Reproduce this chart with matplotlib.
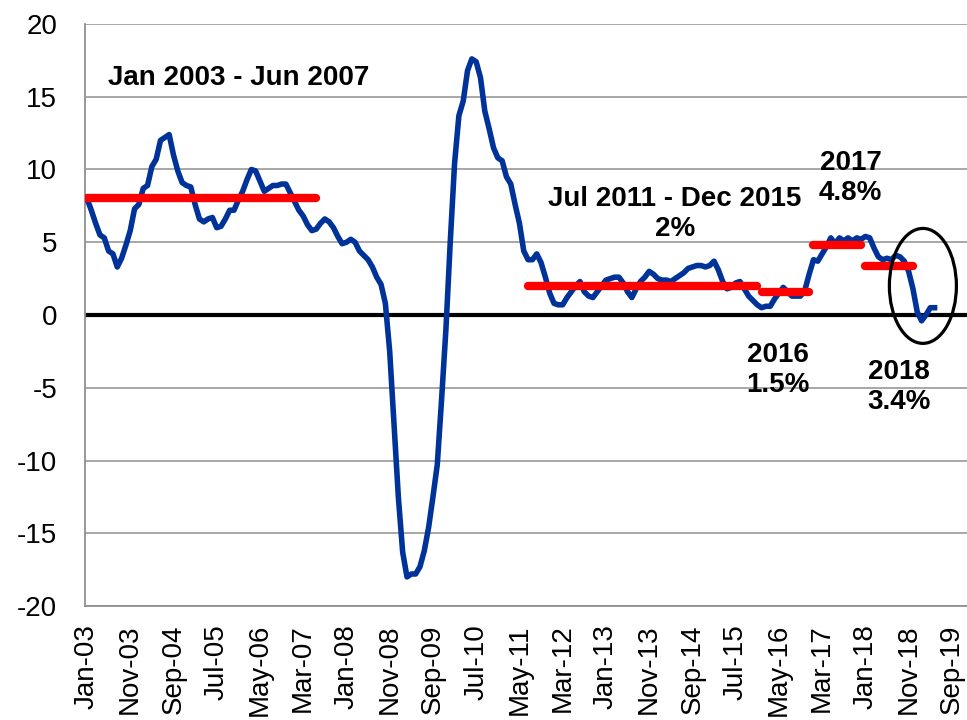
import numpy as np
import pandas as pd
import matplotlib
matplotlib.use('Agg')
import matplotlib.pyplot as plt
from matplotlib.patches import Ellipse

# monthly growth, % y/y, starting Jan 2003
start = '2003-01'
growth = [
    8.0, 7.2, 6.3, 5.5, 5.3, 4.4, 4.2, 3.3, 3.9, 4.8,
    5.8, 7.3, 7.6, 8.7, 8.9, 10.2, 10.7, 12.0, 12.2, 12.4,
    11.0, 9.9, 9.1, 8.9, 8.8, 7.6, 6.6, 6.4, 6.6, 6.7,
    6.0, 6.1, 6.6, 7.2, 7.2, 7.9, 8.5, 9.3, 10.0, 9.9,
    9.2, 8.5, 8.7, 8.9, 8.9, 9.0, 9.0, 8.4, 7.8, 7.2,
    6.8, 6.2, 5.8, 5.9, 6.3, 6.6, 6.4, 6.0, 5.4, 4.9,
    5.0, 5.2, 5.0, 4.4, 4.1, 3.8, 3.3, 2.6, 2.1, 0.8,
    -2.5, -7.5, -12.5, -16.3, -18.0, -17.8, -17.8, -17.3, -16.2, -14.6,
    -12.5, -10.3, -5.8, -1.0, 5.0, 10.4, 13.7, 14.7, 16.8, 17.6,
    17.4, 16.3, 14.0, 12.8, 11.5, 10.8, 10.6, 9.5, 9.0, 7.6,
    6.3, 4.4, 3.8, 3.8, 4.2, 3.6, 2.6, 1.5, 0.8, 0.7,
    0.7, 1.2, 1.6, 2.0, 2.3, 1.6, 1.3, 1.2, 1.6, 2.0,
    2.4, 2.5, 2.6, 2.6, 2.2, 1.6, 1.2, 1.8, 2.3, 2.6,
    3.0, 2.8, 2.5, 2.4, 2.4, 2.3, 2.5, 2.7, 2.9, 3.2,
    3.3, 3.4, 3.4, 3.3, 3.4, 3.7, 3.1, 2.3, 1.8, 1.9,
    2.2, 2.3, 1.8, 1.3, 1.0, 0.7, 0.5, 0.6, 0.6, 1.1,
    1.5, 1.9, 1.6, 1.3, 1.3, 1.3, 1.7, 2.8, 3.8, 3.7,
    4.2, 4.7, 5.3, 4.9, 5.3, 5.1, 5.3, 5.1, 5.3, 5.2,
    5.4, 5.3, 4.6, 4.0, 3.8, 3.9, 3.8, 4.1, 4.0, 3.7,
    3.0, 1.8, 0.2, -0.4, 0.0, 0.5, 0.5,
]

# period averages: (first month, last month, average)
avg_starts = ['2003-01', '2011-07', '2016-01', '2017-01', '2018-01']
avg_ends = ['2007-06', '2015-12', '2016-12', '2017-12', '2018-12']
avg_values = [8.05, 2.0, 1.55, 4.8, 3.35]

labels = ['Jan 2003 - Jun 2007', 'Jul 2011 - Dec 2015\n2%', '2016\n1.5%',
          '2017\n4.8%', '2018\n3.4%']

yticks = [20, 15, 10, 5, 0, -5, -10, -15, -20]

plt.rcParams['font.family'] = ['Liberation Sans', 'DejaVu Sans']

x = np.arange(len(growth))
base = pd.Timestamp(start)


def month_idx(s):
    t = pd.Timestamp(s)
    return (t.year - base.year) * 12 + (t.month - base.month)


fig = plt.figure(figsize=(9.67, 7.2), dpi=100)
ax = fig.add_axes([0.0879, 0.1583, 0.9121, 0.8084])

for v in yticks:
    if v != 0:
        ax.axhline(v, color='#a0a0a0', lw=1.3, zorder=1)
ax.axhline(0, color='black', lw=3, zorder=2)

ax.plot(x, growth, color='#003399', lw=4, solid_joinstyle='round', zorder=3)

for s, e, v in zip(avg_starts, avg_ends, avg_values):
    ax.plot([month_idx(s), month_idx(e)], [v, v], color='#ff0000', lw=6,
            solid_capstyle='round', zorder=4)

ax.add_patch(Ellipse((193.3, 2.0), 15.5, 7.9, fill=False, ec='black', lw=2.3, zorder=5))

bold = dict(fontsize=20, fontweight='bold', color='black', zorder=6)
ax.text(4.9, 16.3, labels[0], ha='left', va='center', **bold)
ax.text(136, 6.94, labels[1], ha='center', va='center', **bold)
ax.text(159.8, -3.78, labels[2], ha='center', va='center', **bold)
ax.text(176.6, 9.42, labels[3], ha='center', va='center', **bold)
ax.text(187.7, -4.95, labels[4], ha='center', va='center', **bold)

tick_pos = np.arange(0, 201, 10)
tick_lab = pd.date_range(start, periods=len(tick_pos), freq='10MS').strftime('%b-%y')
ax.set_xticks(tick_pos)
ax.set_xticklabels(tick_lab, rotation=90, fontsize=20)
ax.set_yticks(yticks)
ax.set_yticklabels([str(v) for v in yticks], fontsize=20)
ax.tick_params(axis='x', length=0, pad=13)
ax.tick_params(axis='y', length=0, pad=20)

ax.set_xlim(-0.46, 203.5)
ax.set_ylim(-20, 20)

for side in ['top', 'right']:
    ax.spines[side].set_visible(False)
for side in ['left', 'bottom']:
    ax.spines[side].set_color('#909090')
    ax.spines[side].set_linewidth(1.3)

fig.savefig('out.png', dpi=100)
